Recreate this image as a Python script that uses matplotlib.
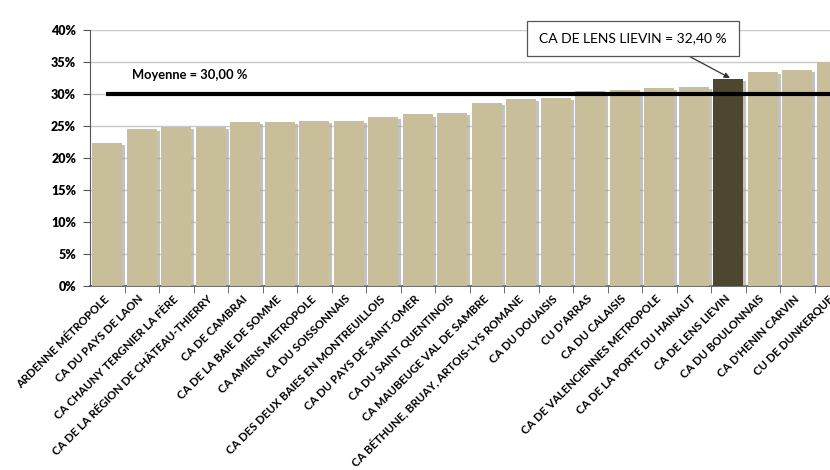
import matplotlib
matplotlib.use("Agg")
import matplotlib.pyplot as plt
import matplotlib.patheffects as pe
from matplotlib.ticker import FixedLocator, FuncFormatter

categories = [
    "ARDENNE MÉTROPOLE", "CA DU PAYS DE LAON", "CA CHAUNY TERGNIER LA FÈRE",
    "CA DE LA RÉGION DE CHÂTEAU-THIERRY", "CA DE CAMBRAI", "CA DE LA BAIE DE SOMME",
    "CA AMIENS METROPOLE", "CA DU SOISSONNAIS", "CA DES DEUX BAIES EN MONTREUILLOIS",
    "CA DU PAYS DE SAINT-OMER", "CA DU SAINT QUENTINOIS", "CA MAUBEUGE VAL DE SAMBRE",
    "CA BÉTHUNE, BRUAY, ARTOIS-LYS ROMANE", "CA DU DOUAISIS", "CU D'ARRAS",
    "CA DU CALAISIS", "CA DE VALENCIENNES METROPOLE", "CA DE LA PORTE DU HAINAUT",
    "CA DE LENS LIEVIN", "CA DU BOULONNAIS", "CA D'HENIN CARVIN", "CU DE DUNKERQUE",
]
values = [22.3, 24.5, 24.9, 24.9, 25.6, 25.7, 25.8, 25.8, 26.45, 26.8, 27.0,
          28.6, 29.2, 29.4, 30.5, 30.7, 31.0, 31.1, 32.4, 33.5, 33.8, 35.0]
highlight = "CA DE LENS LIEVIN"
highlight_label = "CA DE LENS LIEVIN = 32,40 %"
mean_value = 30.0
mean_label = "Moyenne = 30,00 %"
yticks = [0, 5, 10, 15, 20, 25, 30, 35, 40]

FONT = ["Lato", "DejaVu Sans"]
plt.rcParams["font.family"] = FONT

W, H = 830, 470
fig = plt.figure(figsize=(W / 100, H / 100), dpi=100)
ax = fig.add_axes([90 / W, (H - 286) / H, 759 / W, 256 / H])

tan = "#c8be99"
dark = "#4e4730"
colors = [dark if c == highlight else tan for c in categories]
x = list(range(len(categories)))
bars = ax.bar(x, values, width=0.86, color=colors, zorder=3)
for b in bars:
    b.set_path_effects([pe.SimplePatchShadow(offset=(2.2, -1.5), shadow_rgbFace="#9a9a9a", alpha=0.6),
                        pe.Normal()])

ax.set_xlim(-0.5, len(categories) - 0.5)
ax.set_ylim(0, 40)
ax.yaxis.set_major_locator(FixedLocator(yticks))
ax.yaxis.set_major_formatter(FuncFormatter(lambda v, p: f"{int(v)}%"))
ax.grid(axis="y", color="#c8c8c8", lw=1.0, zorder=0)
ax.set_axisbelow(True)

for s in ["top", "right"]:
    ax.spines[s].set_visible(False)
ax.spines["left"].set_color("#555555")
ax.spines["bottom"].set_color("#555555")
ax.spines["bottom"].set_linewidth(1.2)

ax.tick_params(axis="y", length=5, color="#555555", labelsize=9, pad=5)
for t in ax.get_yticklabels():
    t.set_fontweight("heavy")

ax.set_xticks(x)
ax.set_xticklabels(categories, rotation=45, ha="right", va="center",
                   rotation_mode="anchor", fontsize=8.2, fontweight="bold")
ax.tick_params(axis="x", which="major", length=0, pad=8)
ax.set_xticks([i + 0.5 for i in x[:-1]], minor=True)
ax.tick_params(axis="x", which="minor", length=5, color="#555555")

ax.hlines(mean_value, -0.04, len(categories) - 0.5, color="black", lw=3, zorder=5)
ax.text(2.4, 33.0, mean_label, ha="center", va="center", fontsize=9.3, fontweight="bold",
        zorder=6, bbox=dict(facecolor="white", edgecolor="none", pad=3))

hi = categories.index(highlight)
ax.annotate(highlight_label, xy=(hi + 0.05, values[hi] + 0.1),
            xytext=(15.24, 38.7), ha="center", va="center",
            fontsize=10, fontweight="normal", zorder=7,
            bbox=dict(boxstyle="square,pad=0.85", facecolor="white", edgecolor="#555555", lw=0.9),
            arrowprops=dict(arrowstyle="-|>", color="#333333", lw=0.9, mutation_scale=8,
                            relpos=(0.68, 0.0), shrinkA=0, shrinkB=0))

fig.savefig("out.png", dpi=100)
